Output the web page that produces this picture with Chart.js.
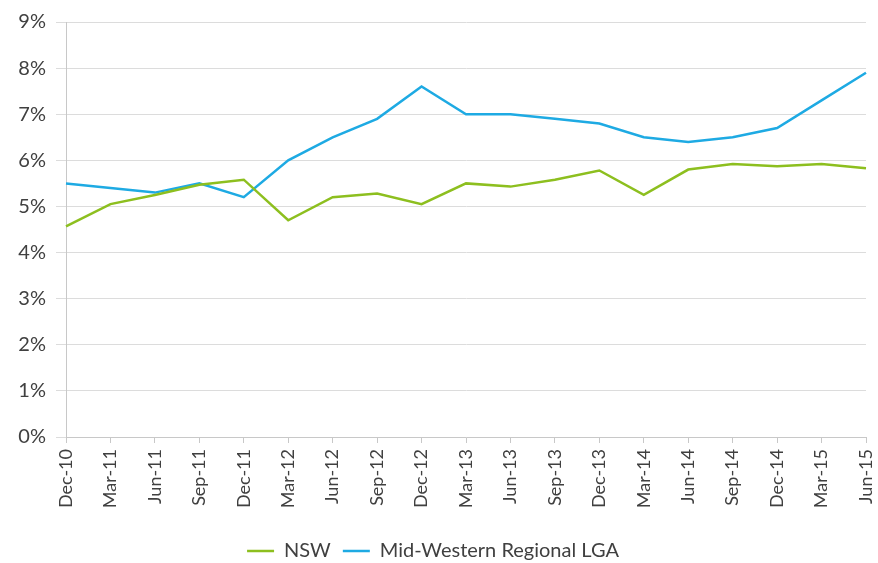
<!DOCTYPE html>
<html>
<head>
<meta charset="utf-8">
<script src="https://cdn.jsdelivr.net/npm/chart.js@4.4.1/dist/chart.umd.min.js"></script>
<style>
html,body{margin:0;padding:0;background:#fff;}
#wrap{width:878px;height:563px;position:relative;}
</style>
</head>
<body>
<div id="wrap"><canvas id="c" width="878" height="563"></canvas></div>
<script>
const categories = ["Dec-10","Mar-11","Jun-11","Sep-11","Dec-11","Mar-12","Jun-12","Sep-12","Dec-12","Mar-13","Jun-13","Sep-13","Dec-13","Mar-14","Jun-14","Sep-14","Dec-14","Mar-15","Jun-15"];
const nswValues = [4.57,5.05,5.25,5.47,5.58,4.7,5.2,5.28,5.05,5.5,5.43,5.58,5.78,5.25,5.8,5.92,5.87,5.92,5.83];
const lgaValues = [5.5,5.4,5.3,5.5,5.2,6.0,6.5,6.9,7.6,7.0,7.0,6.9,6.8,6.5,6.4,6.5,6.7,7.3,7.9];
const yTicks = [0,1,2,3,4,5,6,7,8,9];

const FONT = "Lato, 'Open Sans', sans-serif";
new Chart(document.getElementById('c'), {
  type: 'line',
  data: {
    labels: categories,
    datasets: [
      {label: 'NSW', data: nswValues, borderColor: '#8dbf1f', backgroundColor: '#8dbf1f', borderWidth: 2.5, pointRadius: 0, tension: 0},
      {label: 'Mid-Western Regional LGA', data: lgaValues, borderColor: '#1eaae3', backgroundColor: '#1eaae3', borderWidth: 2.5, pointRadius: 0, tension: 0}
    ]
  },
  options: {
    responsive: false,
    animation: false,
    layout: {padding: {top: 20, right: 12, left: 0, bottom: -8}},
    plugins: {
      legend: {
        position: 'bottom',
        labels: {usePointStyle: true, pointStyle: 'line', pointStyleWidth: 27, boxWidth: 27, color: '#404040', font: {family: FONT, size: 20, lineHeight: 1}, padding: 12}
      },
      tooltip: {enabled: false}
    },
    scales: {
      x: {
        offset: false,
        grid: {display: true, drawOnChartArea: false, color: '#c8c8c8', tickLength: 6},
        border: {color: '#c8c8c8'},
        ticks: {minRotation: 90, maxRotation: 90, autoSkip: false, color: '#404040', font: {family: FONT, size: 18}, padding: 6},
        afterFit: s => { s.height = 92; s.paddingLeft = 0; s.paddingRight = 0; }
      },
      y: {
        min: 0, max: 9,
        afterBuildTicks: s => { s.ticks = yTicks.map(v => ({value: v})); },
        grid: {color: '#dcdcdc', tickLength: 10},
        border: {color: '#c8c8c8'},
        ticks: {callback: v => v + '%', color: '#404040', font: {family: FONT, size: 20}, padding: 10},
        afterFit: s => { s.width = 66; }
      }
    }
  }
});
</script>
</body>
</html>
